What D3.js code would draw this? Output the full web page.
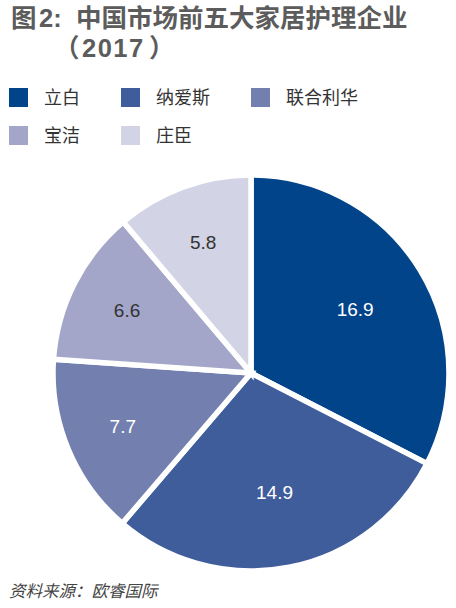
<!DOCTYPE html>
<html>
<head>
<meta charset="utf-8">
<script src="https://cdn.jsdelivr.net/npm/d3@7"></script>
<style>
    body { margin: 0; background: #fff; }
    svg text { font-family: "Liberation Sans", Arial, "Noto Sans CJK SC", sans-serif; }
</style>
</head>
<body>
<svg id="chart" width="456" height="608"></svg>
<script>
// data
const companies = ["立白", "纳爱斯", "联合利华", "宝洁", "庄臣"];
const shares = [16.9, 14.9, 7.7, 6.6, 5.8];
const colors = ["#02448a", "#3f5d9b", "#737fae", "#a3a6c9", "#d2d3e4"];
const labelColors = ["#fff", "#fff", "#fff", "#333", "#333"];

const titleParts = ["图", "2:", "中国市场前五大家居护理企业"];
const yearParts = ["（", "2017", "）"];
const source = "资料来源：欧睿国际";

const svg = d3.select("#chart");

// title, two lines
const title = svg.append("g")
    .attr("fill", "#5c5c5c")
    .style("font-family", "'Noto Sans CJK SC', sans-serif")
    .style("font-weight", "bold")
    .style("font-size", "25.5px");
const t1 = title.append("text").attr("y", 27);
t1.append("tspan").attr("x", 11).text(titleParts[0]);
t1.append("tspan").attr("x", 39).text(titleParts[1]);
t1.append("tspan").attr("x", 76).text(titleParts[2]);
const t2 = title.append("text").attr("y", 57);
t2.append("tspan").attr("x", 54).text(yearParts[0]);
t2.append("tspan").attr("x", 82).style("letter-spacing", "1.5px").text(yearParts[1]);
t2.append("tspan").attr("x", 149).text(yearParts[2]);

// legend, 3 per row
const legend = svg.append("g").attr("class", "legend");
const colX = [9, 121, 251];
const item = legend.selectAll("g")
    .data(companies)
    .join("g")
    .attr("transform", (d, i) => `translate(${colX[i % 3]},${88 + Math.floor(i / 3) * 38})`);
item.append("rect")
    .attr("width", 19).attr("height", 19)
    .attr("fill", (d, i) => colors[i]);
item.append("text")
    .attr("x", 35).attr("y", 16)
    .attr("fill", "#333")
    .style("font-family", "'Noto Sans CJK SC', sans-serif")
    .style("font-size", "18px")
    .text(d => d);

// pie
const cx = 251, cy = 373, r = 198;
const pie = d3.pie().sort(null).value(d => d);
const arc = d3.arc().innerRadius(0).outerRadius(r);
const arcs = pie(shares);

const g = svg.append("g").attr("transform", `translate(${cx},${cy})`);
g.selectAll("path")
    .data(arcs)
    .join("path")
    .attr("d", arc)
    .attr("fill", (d, i) => colors[i])
    .attr("stroke", "#fff")
    .attr("stroke-width", 5.5)
    .attr("stroke-linejoin", "miter");

// big slices put their label a bit further in
const labelArc = d => {
    const rr = (d.endAngle - d.startAngle) > Math.PI / 2 ? 122 : 139;
    return d3.arc().innerRadius(rr).outerRadius(rr).centroid(d);
};
g.selectAll("text")
    .data(arcs)
    .join("text")
    .attr("transform", d => `translate(${labelArc(d)})`)
    .attr("text-anchor", "middle")
    .attr("dy", "0.35em")
    .attr("fill", (d, i) => labelColors[i])
    .style("font-size", "19px")
    .text(d => d.data.toFixed(1));

// source
svg.append("text")
    .attr("x", 9).attr("y", 597)
    .attr("fill", "#444")
    .style("font-family", "'Noto Sans CJK SC', sans-serif")
    .style("font-style", "italic")
    .style("font-size", "16.5px")
    .text(source);
</script>
</body>
</html>
